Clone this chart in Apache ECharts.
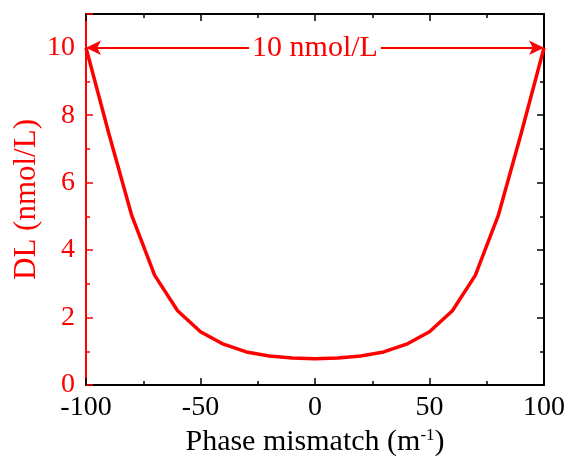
<!DOCTYPE html>
<html>
<head>
<meta charset="utf-8">
<script src="https://cdn.jsdelivr.net/npm/echarts@6/dist/echarts.min.js"></script>
<style>
  html, body { margin: 0; padding: 0; background: #fff; }
  #chart { width: 569px; height: 457px; }
</style>
</head>
<body>
<div id="chart"></div>
<script>
// phase mismatch (m^-1) vs detection limit (nmol/L)
const mismatch = [-100, -90, -80, -70, -60, -50, -40, -30, -20, -10, 0, 10, 20, 30, 40, 50, 60, 70, 80, 90, 100];
const dl = [10, 7.45, 5.02, 3.25, 2.2, 1.58, 1.21, 0.98, 0.86, 0.8, 0.78, 0.8, 0.86, 0.98, 1.21, 1.58, 2.2, 3.25, 5.02, 7.45, 10];
const xTicks = [-100, -50, 0, 50, 100];
const yTicks = [0, 2, 4, 6, 8, 10];
const rangeLabel = '10 nmol/L';

const RED = '#ff0000';
const font = '"Liberation Serif", "Times New Roman", serif';

let chart = echarts.init(document.getElementById('chart'));

const tickCommon = {
  axisTick: { show: true, inside: true, length: 7, lineStyle: { color: '#000', width: 1.5 } },
  minorTick: { show: true, splitNumber: 2, length: 4, lineStyle: { color: '#000', width: 1.5 } },
  splitLine: { show: false },
  axisLine: { show: true, onZero: false, lineStyle: { color: '#000', width: 2 } }
};

let option = {
  animation: false,
  grid: { left: 86, right: 25, top: 14, bottom: 72, containLabel: false, outerBoundsMode: 'none' },
  xAxis: [
    Object.assign({
      type: 'value', min: -100, max: 100, interval: 50,
      position: 'bottom',
      axisLabel: { color: '#000', fontSize: 28, fontFamily: font, margin: 9,
        formatter: v => xTicks.includes(v) ? String(v) : '' },
      name: '{t|Phase mismatch (m}{s|-1}{t|)}',
      nameLocation: 'middle', nameGap: 38,
      nameTextStyle: { rich: {
        t: { fontSize: 30, fontFamily: font, color: '#000' },
        s: { fontSize: 17, fontFamily: font, color: '#000', verticalAlign: 'top', padding: [0, 0, 14, 0] }
      } }
    }, tickCommon),
    Object.assign({
      type: 'value', min: -100, max: 100, interval: 50,
      position: 'top',
      axisLabel: { show: false }
    }, tickCommon)
  ],
  yAxis: [
    Object.assign({}, tickCommon, {
      type: 'value', min: 0, max: 11, interval: 2,
      position: 'left',
      axisLine: { show: true, onZero: false, lineStyle: { color: RED, width: 2 } },
      axisTick: { show: true, inside: true, length: 7, lineStyle: { color: RED, width: 1.5 } },
      minorTick: { show: true, splitNumber: 2, length: 4, lineStyle: { color: RED, width: 1.5 } },
      axisLabel: { color: RED, fontSize: 28, fontFamily: font, margin: 11,
        formatter: v => yTicks.includes(v) ? String(v) : '' },
      name: 'DL (nmol/L)',
      nameLocation: 'middle', nameGap: 44, nameMoveOverlap: false,
      nameTextStyle: { color: RED, fontSize: 31, fontFamily: font }
    }),
    Object.assign({
      type: 'value', min: 0, max: 11, interval: 2,
      position: 'right',
      axisLabel: { show: false }
    }, tickCommon)
  ],
  series: [{
    type: 'line',
    data: mismatch.map((x, i) => [x, dl[i]]),
    showSymbol: false,
    lineStyle: { color: RED, width: 3.5 },
    itemStyle: { color: RED },
    markLine: {
      silent: true,
      symbol: ['arrow', 'arrow'],
      symbolSize: [11, 15],
      lineStyle: { color: RED, width: 2, type: 'solid' },
      label: {
        show: true, position: 'middle', formatter: rangeLabel,
        color: RED, fontSize: 30, fontFamily: font,
        backgroundColor: '#fff', padding: [0, 3], distance: -15
      },
      data: [[
        { coord: [mismatch[0], dl[0]] },
        { coord: [mismatch[mismatch.length - 1], dl[dl.length - 1]] }
      ]]
    }
  }]
};

chart.setOption(option);
</script>
</body>
</html>
